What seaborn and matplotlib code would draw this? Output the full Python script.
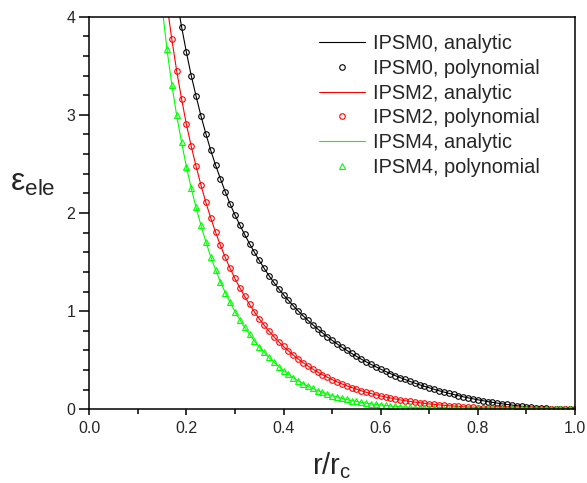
import numpy as np
import pandas as pd
import seaborn as sns
import matplotlib.pyplot as plt
from matplotlib.ticker import MultipleLocator

nan = np.nan

# r / r_c grid shared by all curves
r_vals = [0.15, 0.16, 0.17, 0.18, 0.19, 0.20, 0.21, 0.22, 0.23, 0.24,
          0.25, 0.26, 0.27, 0.28, 0.29, 0.30, 0.31, 0.32, 0.33, 0.34,
          0.35, 0.36, 0.37, 0.38, 0.39, 0.40, 0.41, 0.42, 0.43, 0.44,
          0.45, 0.46, 0.47, 0.48, 0.49, 0.50, 0.51, 0.52, 0.53, 0.54,
          0.55, 0.56, 0.57, 0.58, 0.59, 0.60, 0.61, 0.62, 0.63, 0.64,
          0.65, 0.66, 0.67, 0.68, 0.69, 0.70, 0.71, 0.72, 0.73, 0.74,
          0.75, 0.76, 0.77, 0.78, 0.79, 0.80, 0.81, 0.82, 0.83, 0.84,
          0.85, 0.86, 0.87, 0.88, 0.89, 0.90, 0.91, 0.92, 0.93, 0.94,
          0.95, 0.96, 0.97, 0.98, 0.99, 1.00]

ipsm0 = [nan, nan, nan, 4.19, 3.90, 3.64, 3.40, 3.19, 2.99, 2.81,
         2.64, 2.49, 2.35, 2.217, 2.092, 1.980, 1.878, 1.781, 1.688, 1.600,
         1.517, 1.437, 1.362, 1.293, 1.228, 1.167, 1.109, 1.055, 1.003, 0.954,
         0.907, 0.863, 0.820, 0.779, 0.740, 0.703, 0.667, 0.633, 0.601, 0.570,
         0.540, 0.511, 0.484, 0.458, 0.433, 0.409, 0.386, 0.364, 0.343, 0.323,
         0.304, 0.285, 0.267, 0.250, 0.234, 0.219, 0.204, 0.189, 0.176, 0.163,
         0.151, 0.139, 0.127, 0.117, 0.107, 0.097, 0.088, 0.079, 0.071, 0.063,
         0.056, 0.049, 0.043, 0.037, 0.031, 0.026, 0.022, 0.018, 0.014, 0.010,
         0.008, 0.005, 0.003, 0.002, 0.0004, 0.0]

ipsm2 = [nan, 4.13, 3.77, 3.45, 3.166, 2.905, 2.680, 2.475, 2.285, 2.110,
         1.952, 1.806, 1.672, 1.549, 1.436, 1.333, 1.238, 1.150, 1.068, 0.993,
         0.922, 0.857, 0.797, 0.741, 0.689, 0.640, 0.595, 0.553, 0.513, 0.476,
         0.442, 0.410, 0.380, 0.353, 0.327, 0.303, 0.280, 0.259, 0.240, 0.222,
         0.205, 0.189, 0.174, 0.161, 0.148, 0.136, 0.125, 0.115, 0.105, 0.096,
         0.088, 0.081, 0.073, 0.067, 0.061, 0.055, 0.050, 0.045, 0.041, 0.037,
         0.033, 0.029, 0.026, 0.023, 0.021, 0.018, 0.016, 0.014, 0.012, 0.010,
         0.009, 0.007, 0.006, 0.005, 0.004, 0.003, 0.003, 0.002, 0.0015, 0.001,
         0.001, 0.0005, 0.0003, 0.0001, 0.0, 0.0]

ipsm4 = [4.10, 3.671, 3.309, 2.995, 2.723, 2.473, 2.252, 2.057, 1.875, 1.709,
         1.556, 1.423, 1.300, 1.190, 1.091, 0.996, 0.914, 0.835, 0.764, 0.696,
         0.635, 0.579, 0.528, 0.481, 0.436, 0.395, 0.358, 0.323, 0.290, 0.262,
         0.235, 0.212, 0.191, 0.172, 0.155, 0.139, 0.125, 0.112, 0.100, 0.089,
         0.080, 0.071, 0.063, 0.056, 0.050, 0.044, 0.039, 0.034, 0.030, 0.026,
         0.023, 0.020, 0.017, 0.015, 0.013, 0.011, 0.0095, 0.008, 0.0068, 0.0057,
         0.0048, 0.004, 0.0033, 0.0027, 0.0022, 0.0018, 0.0014, 0.0011, 0.0009, 0.0007,
         0.0005, 0.0004, 0.0003, 0.0002, 0.0002, 0.0001, 0.0001, 0.0, 0.0, 0.0,
         0.0, 0.0, 0.0, 0.0, 0.0, 0.0]

series = [("IPSM0", ipsm0, "#000000", "o", 4.0),
          ("IPSM2", ipsm2, "#ff0000", "o", 4.0),
          ("IPSM4", ipsm4, "#00ff00", "^", 4.6)]

sns.set_style("ticks")
plt.rcParams["font.family"] = ["Liberation Sans", "DejaVu Sans"]
plt.rcParams["mathtext.fontset"] = "custom"
plt.rcParams["mathtext.rm"] = "Liberation Sans"
plt.rcParams["mathtext.it"] = "Liberation Sans"

fig = plt.figure(figsize=(5.87, 4.83), dpi=100)
ax = fig.add_axes([0.152, 0.1526, 0.8275, 0.8128])

for name, vals, col, mk, ms in series:
    df = pd.DataFrame({"r": r_vals, "e": vals}).dropna()
    sns.lineplot(data=df, x="r", y="e", color=col, linewidth=0.8,
                 label=f"{name}, analytic", ax=ax)
    sns.lineplot(data=df, x="r", y="e", color=col, linestyle="", marker=mk,
                 markersize=ms, markerfacecolor="none", markeredgecolor=col,
                 markeredgewidth=0.8, label=f"{name}, polynomial", ax=ax)

ax.set_xlim(0, 1)
ax.set_ylim(0, 4)
ax.xaxis.set_major_locator(MultipleLocator(0.2))
ax.xaxis.set_minor_locator(MultipleLocator(0.1))
ax.yaxis.set_major_locator(MultipleLocator(1))
ax.yaxis.set_minor_locator(MultipleLocator(0.2))
ax.xaxis.set_major_formatter(plt.FormatStrFormatter("%.1f"))

for s in ax.spines.values():
    s.set_linewidth(1.1)
    s.set_color("black")
ax.tick_params(which="major", axis="x", length=4.5, width=1.1, labelsize=11.5, pad=4, color="black")
ax.tick_params(which="minor", axis="x", length=3.5, width=1.1, color="black")
ax.tick_params(which="major", axis="y", length=7, width=1.1, labelsize=11.5, pad=3, color="black")
ax.tick_params(which="minor", axis="y", length=4, width=1.1, color="black")

ax.set_xlabel(r"$\mathregular{r/r_c}$", fontsize=21, labelpad=10)
ax.set_ylabel(r"$\mathregular{ε_{ele}}$", fontsize=23, rotation=0,
              ha="left", va="center")
ax.yaxis.set_label_coords(-0.163, 0.576)

leg = ax.legend(loc="upper left", bbox_to_anchor=(319 / 587, 1 - 34 / 483),
                bbox_transform=fig.transFigure, frameon=False, fontsize=14.4,
                handlelength=2.3, handletextpad=0.38, labelspacing=0.29,
                borderpad=0, borderaxespad=0, numpoints=1)

fig.savefig("out.png", dpi=100)
